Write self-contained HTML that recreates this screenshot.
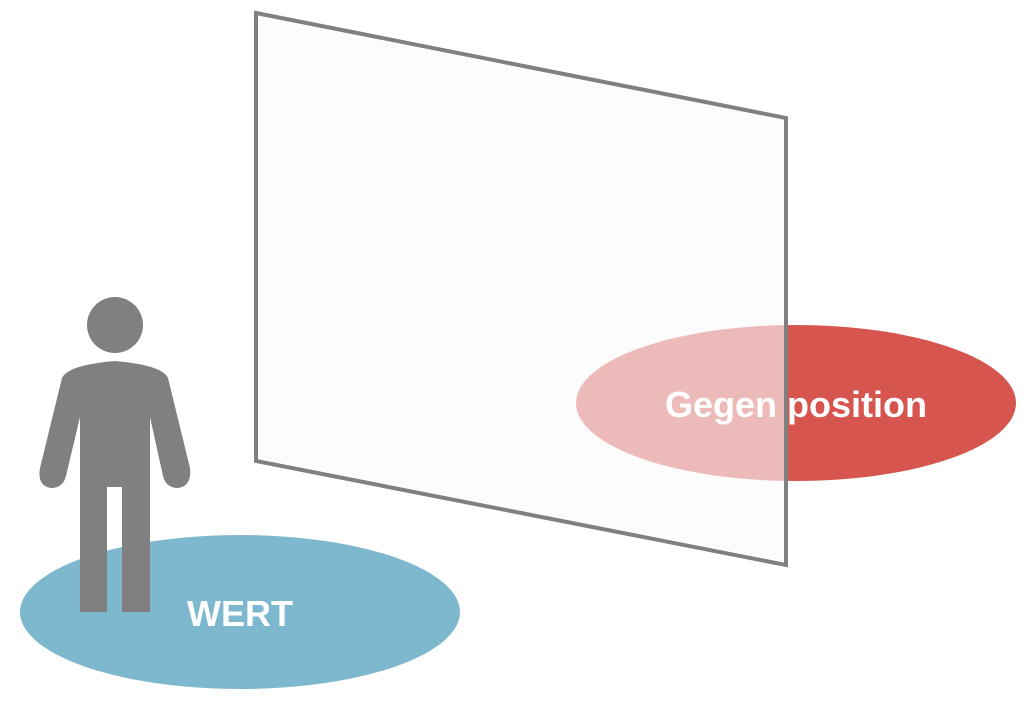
<!DOCTYPE html>
<html><head><style>body{margin:0;background:#fff;width:1024px;height:696px;overflow:hidden}</style></head>
<body>
<svg width="1024" height="696" viewBox="0 0 1024 696" xmlns="http://www.w3.org/2000/svg">
<ellipse cx="796" cy="403" rx="220" ry="78" fill="#d6554f"/>
<polygon points="256,13 786,118 786,565 256,461" fill="#fafafa" fill-opacity="0.62" stroke="#808080" stroke-width="4"/>
<text x="796" y="417" font-family="Liberation Sans, sans-serif" font-weight="bold" font-size="36" fill="#fff" text-anchor="middle">Gegen position</text>
<ellipse cx="240" cy="612" rx="220" ry="77" fill="#7db8cf"/>
<g fill="#808080">
<circle cx="115" cy="325" r="28"/>
<path d="M62,378 Q68,365 115,361 Q162,365 168,378 L190,468 Q192,486 178,488 Q166,488 163,476 L150,417 L150,612 L122,612 L122,487 L107,487 L107,612 L80,612 L80,417 L66,476 Q63,488 51,488 Q37,486 40,468 Z"/>
</g>
<text x="240" y="626" font-family="Liberation Sans, sans-serif" font-weight="bold" font-size="36" fill="#fff" text-anchor="middle">WERT</text>
</svg>
</body></html>
